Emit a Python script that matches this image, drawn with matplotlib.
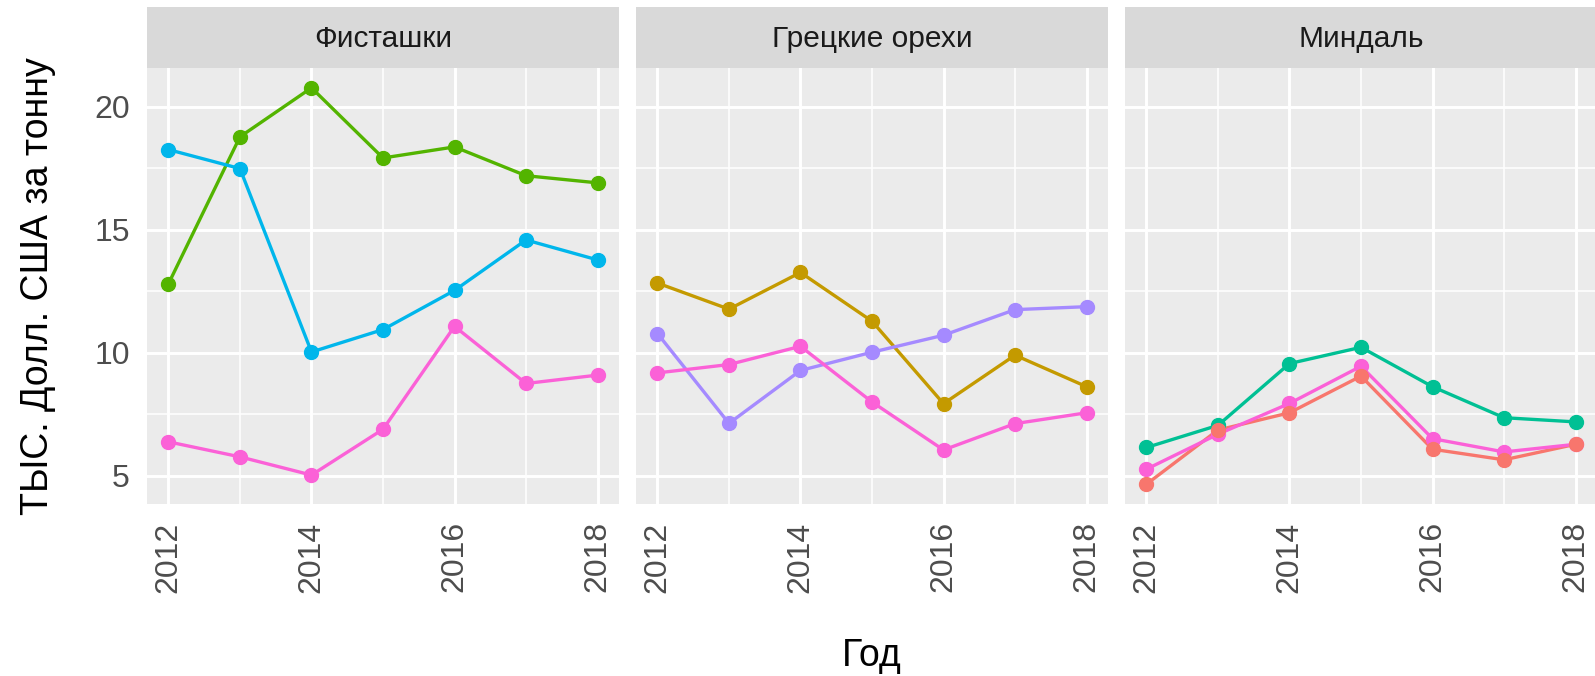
import numpy as np
import matplotlib
matplotlib.use("Agg")
import matplotlib.pyplot as plt

years = [2012, 2013, 2014, 2015, 2016, 2017, 2018]
panel_titles = ["Фисташки", "Грецкие орехи", "Миндаль"]

# Фисташки
pist_green = [12.80, 18.77, 20.76, 17.91, 18.36, 17.19, 16.90]
pist_blue = [18.25, 17.48, 10.03, 10.94, 12.53, 14.58, 13.77]
pist_pink = [6.38, 5.77, 5.03, 6.89, 11.07, 8.75, 9.09]

# Грецкие орехи
walnut_gold = [12.83, 11.77, 13.26, 11.28, 7.93, 9.90, 8.62]
walnut_purple = [10.78, 7.13, 9.28, 10.02, 10.71, 11.75, 11.87]
walnut_pink = [9.18, 9.52, 10.26, 8.00, 6.05, 7.12, 7.56]

# Миндаль
almond_salmon = [4.66, 6.86, 7.56, 9.05, 6.08, 5.65, 6.28]
almond_teal = [6.15, 7.05, 9.56, 10.22, 8.62, 7.36, 7.19]
almond_pink = [5.27, 6.69, 7.94, 9.45, 6.51, 5.97, 6.28]

# (values, colour) per panel, in ggplot group order
panels = [
    [(pist_green, "#53B400"), (pist_blue, "#00B6EB"), (pist_pink, "#FB61D7")],
    [(walnut_gold, "#C49A00"), (walnut_purple, "#A58AFF"), (walnut_pink, "#FB61D7")],
    [(almond_salmon, "#F8766D"), (almond_teal, "#00C094"), (almond_pink, "#FB61D7")],
]
# point drawing order (salmon ends up on top in the almond panel)
point_order = [[0, 1, 2], [0, 1, 2], [1, 2, 0]]

plt.rcParams["font.family"] = ["Liberation Sans", "DejaVu Sans"]

W, H = 1595, 676
fig = plt.figure(figsize=(W / 100, H / 100), dpi=100)

left0 = 147
pw = 472
gap = 17
ptop, pbot = 68, 504
stop = 7

allv = np.concatenate([np.array(s) for p in panels for s, _ in p])
lo, hi = allv.min(), allv.max()
pad = (hi - lo) * 0.05

axes = []
for i, (title, series) in enumerate(zip(panel_titles, panels)):
    x0 = left0 + i * (pw + gap)
    ax = fig.add_axes([x0 / W, (H - pbot) / H, pw / W, (pbot - ptop) / H])
    ax.set_facecolor("#EBEBEB")
    for sp in ax.spines.values():
        sp.set_visible(False)
    ax.set_xticks([2012, 2014, 2016, 2018])
    ax.set_xticks([2013, 2015, 2017], minor=True)
    ax.set_yticks([5, 10, 15, 20])
    ax.set_yticks([7.5, 12.5, 17.5], minor=True)
    ax.grid(which="major", color="white", linewidth=2.1)
    ax.grid(which="minor", color="white", linewidth=1.1)
    ax.set_axisbelow(True)
    ax.tick_params(which="both", length=0, pad=12.5, labelsize=23, colors="#4D4D4D")
    ax.tick_params(axis="x", labelrotation=90)
    for v, c in series:
        ax.plot(years, v, color=c, linewidth=2.4, zorder=2)
    for j in point_order[i]:
        v, c = series[j]
        ax.plot(years, v, linestyle="none", marker="o", markersize=10,
                color=c, zorder=3)
    ax.set_xlim(2012 - 0.3, 2018 + 0.3)
    ax.set_ylim(lo - pad, hi + pad)
    if i > 0:
        ax.tick_params(axis="y", labelleft=False)

    sax = fig.add_axes([x0 / W, (H - ptop) / H, pw / W, (ptop - stop) / H])
    sax.set_facecolor("#D9D9D9")
    sax.set_xticks([])
    sax.set_yticks([])
    for sp in sax.spines.values():
        sp.set_visible(False)
    sax.text(0.5, 0.47, title, ha="center", va="center", fontsize=21.5,
             color="#1A1A1A", transform=sax.transAxes)
    axes.append(ax)

fig.text(38 / W, 1 - (ptop + pbot) / 2 / H, "ТЫС. Долл. США за тонну",
         rotation=90, ha="center", va="center", fontsize=27, color="black")
fig.text((left0 + left0 + 3 * pw + 2 * gap) / 2 / W, 1 - 656 / H, "Год",
         ha="center", va="center", fontsize=27, color="black")

fig.savefig("out.png", dpi=100)
